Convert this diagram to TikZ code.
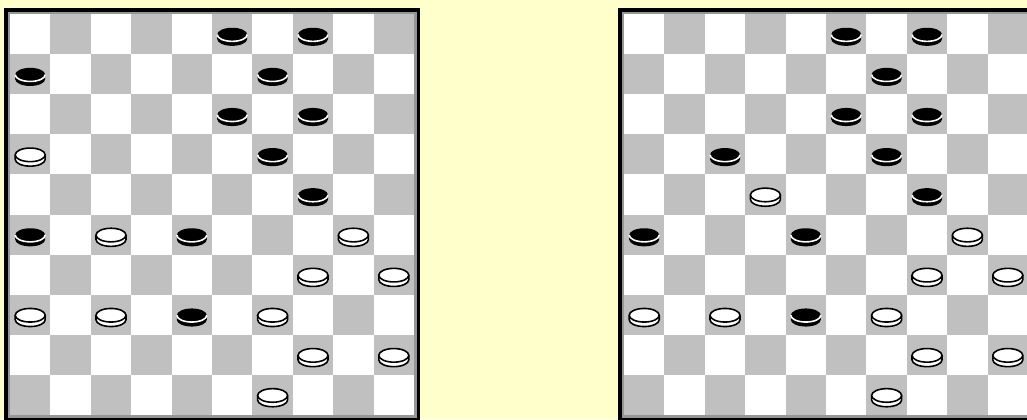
\documentclass[tikz,border=0pt]{standalone}
\usepackage{xcolor}
\usepackage{tikz}
\usetikzlibrary{calc}
\definecolor{pagebg}{RGB}{255,255,204}
\definecolor{darksq}{RGB}{192,192,192}
\definecolor{rimgrey}{RGB}{150,150,150}
\tikzset{
  boardframe/.style={fill=black},
  boardrim/.style={fill=rimgrey},
  lightsquare/.style={fill=white},
  darksquare/.style={fill=darksq},
  pieceline/.style={line width=0.9pt},
  wpiece/.pic={
    \fill[white] (-15,-0.5) -- (-15,-5)
      arc[start angle=180, end angle=360, x radius=15, y radius=6.8] -- (15,-0.5) -- cycle;
    \draw[pieceline] (-15,-0.5) -- (-15,-5)
      arc[start angle=180, end angle=360, x radius=15, y radius=6.8] -- (15,-0.5);
    \draw[pieceline, fill=white] (0,-0.5) ellipse [x radius=15, y radius=6.8];
  },
  bpiece/.pic={
    \fill[black] (-15,-0.5) -- (-15,-5)
      arc[start angle=180, end angle=360, x radius=15, y radius=6.8] -- (15,-0.5)
      arc[start angle=0, end angle=180, x radius=15, y radius=6.8] -- cycle;
    \draw[pieceline, white] (-15,-0.5)
      arc[start angle=180, end angle=360, x radius=15, y radius=6.8];
  }
}

\begin{document}
\begin{tikzpicture}[x=0.02cm, y=0.02cm]

    \useasboundingbox (0,0) rectangle (1027,-419);
    \clip (0,0) rectangle (1027,-419);
    \fill[pagebg] (0,0) rectangle (1027,-419);

    % Boards: frame + squares
    \foreach \bx in {10,624} {
      \fill[boardframe] (\bx-6,-8) rectangle (\bx+410,-430);
      \fill[boardrim] (\bx-2.5,-11.5) rectangle (\bx+406.5,-418);
      \fill[lightsquare] (\bx,-14) rectangle (\bx+404,-415);
      \foreach \r in {0,...,9} {
        \foreach \c in {0,...,9} {
          \pgfmathtruncatemacro\sqodd{mod(\r+\c,2)}
          \ifnum\sqodd=1
            \fill[darksquare] ({\bx+40.4*\c},{-14-40.1*\r}) rectangle ({\bx+40.4*(\c+1)},{-14-40.1*(\r+1)});
          \fi
        }
      }
    }

    % Left board: black pieces
    \foreach \c/\r in {5/0, 7/0, 0/1, 6/1, 5/2, 7/2, 6/3, 7/4, 0/5, 4/5, 4/7}
      \pic at ({10+40.4*(\c+0.5)},{-14-40.1*(\r+0.5)}) {bpiece};

    % Left board: white pieces
    \foreach \c/\r in {0/3, 2/5, 8/5, 7/6, 9/6, 0/7, 2/7, 6/7, 7/8, 9/8, 6/9}
      \pic at ({10+40.4*(\c+0.5)},{-14-40.1*(\r+0.5)}) {wpiece};

    % Right board: black pieces
    \foreach \c/\r in {5/0, 7/0, 6/1, 5/2, 7/2, 2/3, 6/3, 7/4, 0/5, 4/5, 4/7}
      \pic at ({624+40.4*(\c+0.5)},{-14-40.1*(\r+0.5)}) {bpiece};

    % Right board: white pieces
    \foreach \c/\r in {3/4, 8/5, 7/6, 9/6, 0/7, 2/7, 6/7, 7/8, 9/8, 6/9}
      \pic at ({624+40.4*(\c+0.5)},{-14-40.1*(\r+0.5)}) {wpiece};

  \end{tikzpicture}
\end{document}
